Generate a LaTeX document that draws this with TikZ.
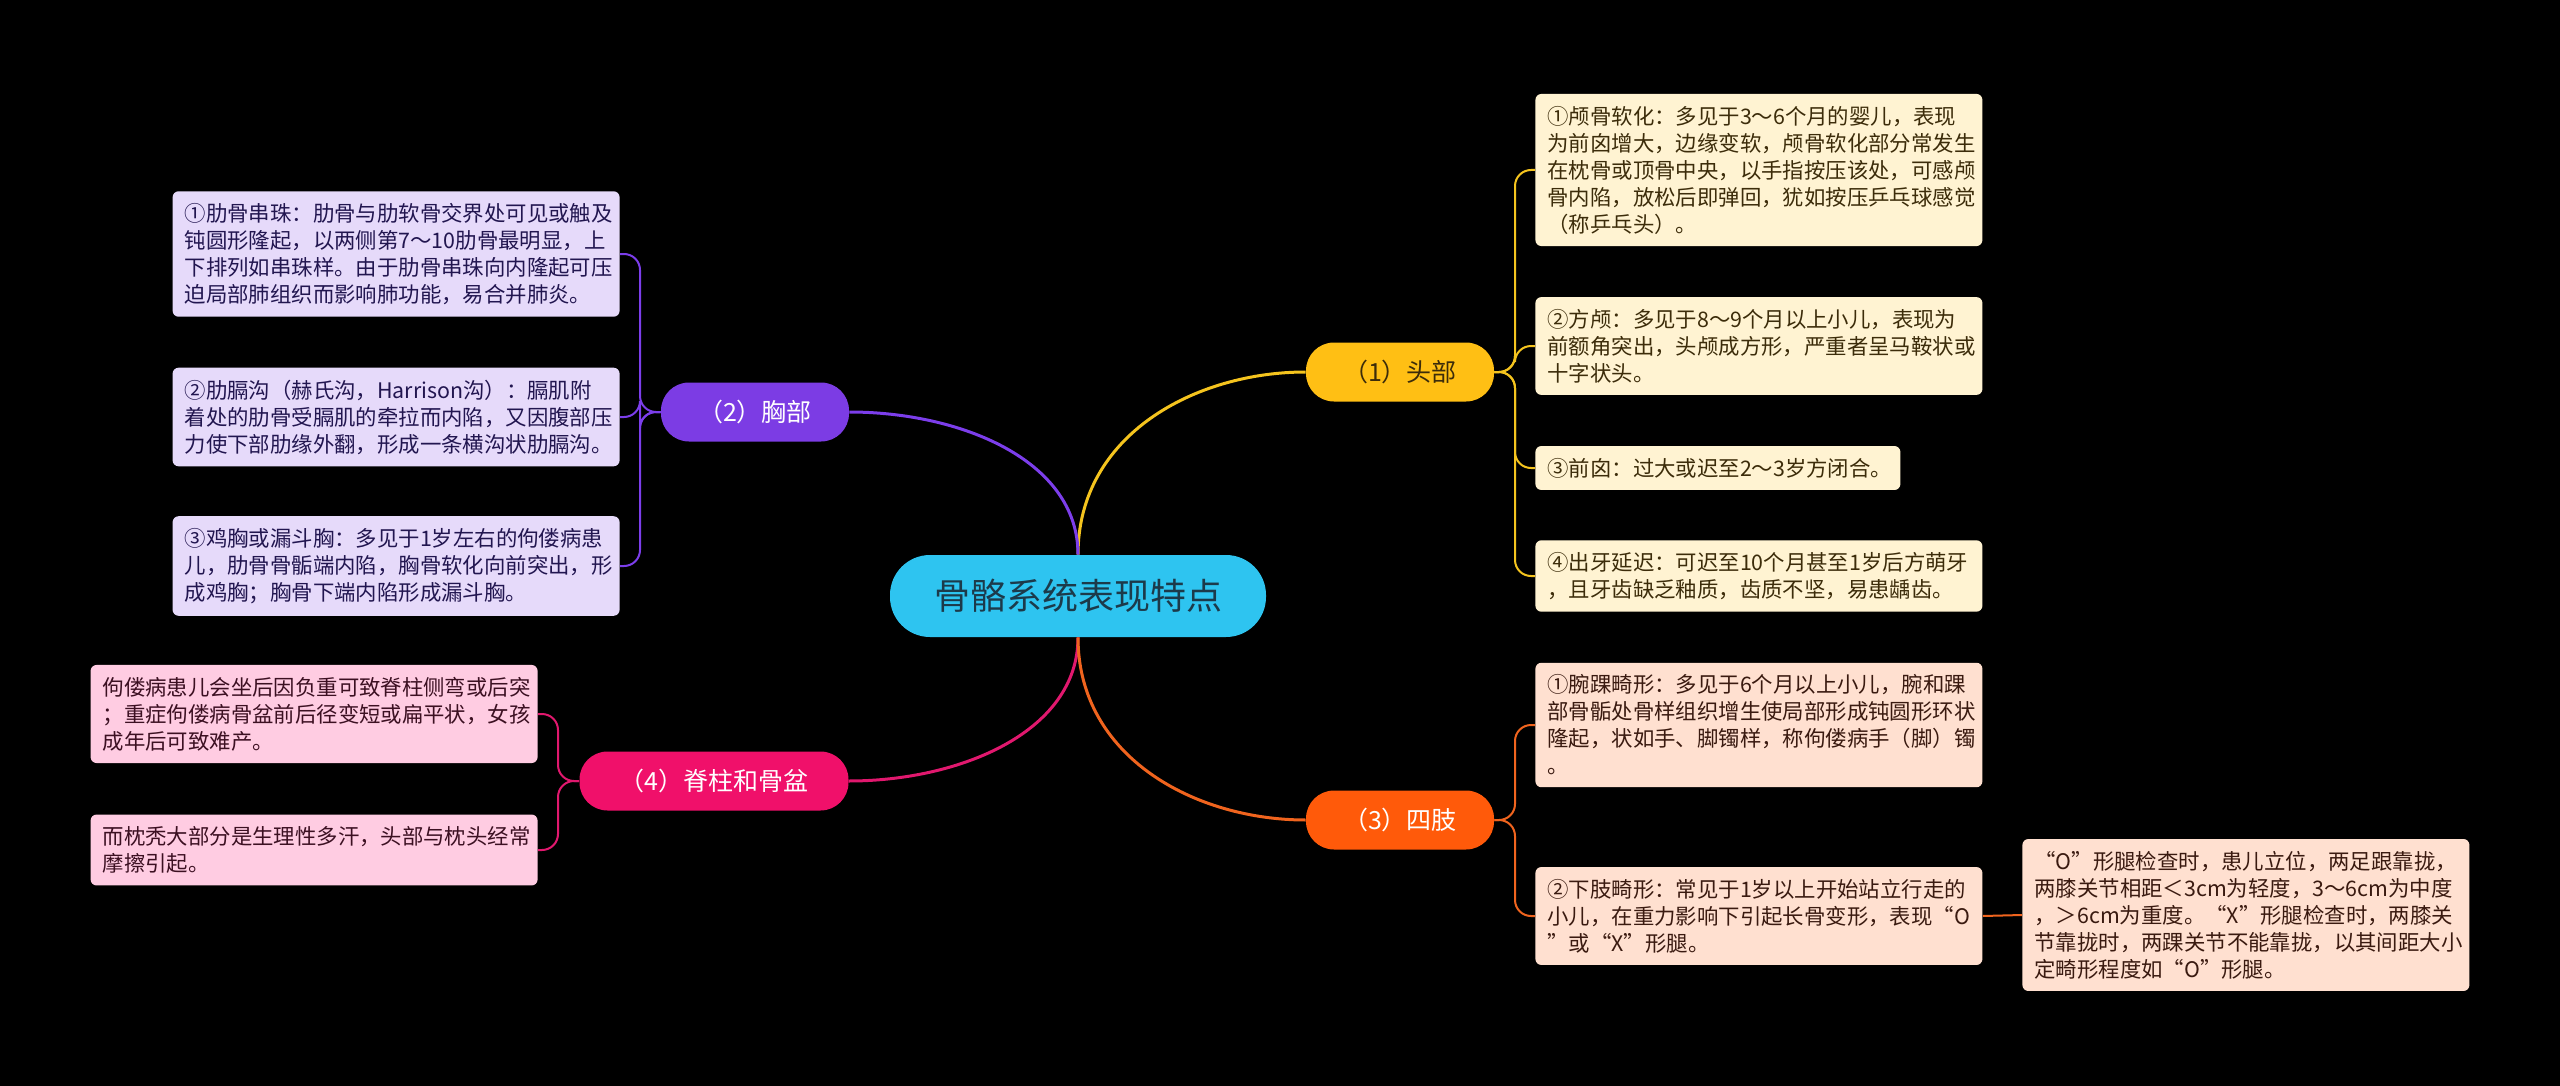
\documentclass[tikz,border=0pt]{standalone}
\usepackage{fontspec}
\setmainfont{Noto Sans CJK SC}

\definecolor{bgblack}{RGB}{0,0,0}
\definecolor{rootfill}{RGB}{46,196,240}
\definecolor{roottext}{RGB}{28,58,74}
\definecolor{headfill}{RGB}{255,191,20}
\definecolor{headline}{RGB}{245,196,30}
\definecolor{headleaf}{RGB}{255,243,210}
\definecolor{headtext}{RGB}{60,44,10}
\definecolor{limbfill}{RGB}{255,90,10}
\definecolor{limbline}{RGB}{240,100,30}
\definecolor{limbleaf}{RGB}{255,224,208}
\definecolor{limbtext}{RGB}{58,26,16}
\definecolor{chestfill}{RGB}{124,60,228}
\definecolor{chestline}{RGB}{124,62,235}
\definecolor{chestleaf}{RGB}{230,218,250}
\definecolor{chesttext}{RGB}{34,22,80}
\definecolor{spinefill}{RGB}{240,16,106}
\definecolor{spineline}{RGB}{225,24,110}
\definecolor{spineleaf}{RGB}{255,204,226}
\definecolor{spinetext}{RGB}{60,16,34}

\tikzset{
  rootbox/.style={fill=rootfill, text=roottext, rounded corners=20pt,
    minimum width=188pt, minimum height=41pt, inner sep=0pt,
    font=\fontsize{18}{22}\selectfont},
  topicbox/.style={rounded corners=14pt, minimum height=29.5pt,
    minimum width=94pt, inner sep=0pt, font=\fontsize{12.5}{15}\selectfont},
  leafbox/.style={rounded corners=3pt, inner xsep=6pt, inner ysep=6pt,
    text width=211.5pt, align=left, font=\fontsize{10.7}{13.5}\selectfont},
  branch/.style={line width=1.5pt},
  brace/.style={line width=1pt, rounded corners=8pt}
}

\begin{document}
\begin{tikzpicture}[x=0.5pt, y=-0.5pt]

% background and frame
\fill[bgblack] (0,0) rectangle (2560,1086);
\useasboundingbox (0,0) rectangle (2560,1086);

% root and main topics
\node[rootbox] (root) at (1078,596) {骨骼系统表现特点};
\node[topicbox, fill=headfill, text=headtext] (head) at (1400,372) {（1）头部};
\node[topicbox, fill=limbfill, text=white] (limb) at (1400,820) {（3）四肢};
\node[topicbox, fill=chestfill, text=white] (chest) at (755,412) {（2）胸部};
\node[topicbox, fill=spinefill, text=white, minimum width=134.5pt] (spine) at (714,781) {（4）脊柱和骨盆};

% main branches
\draw[branch, headline] (root.north) .. controls +(0,-120) and +(-110,0) .. (head.west);
\draw[branch, chestline] (root.north) .. controls +(0,-95) and +(110,0) .. (chest.east);
\draw[branch, spineline] (root.south) .. controls +(0,95) and +(110,0) .. (spine.east);
\draw[branch, limbline] (root.south) .. controls +(0,120) and +(-110,0) .. (limb.west);

% head leaves
\node[leafbox, fill=headleaf, text=headtext, anchor=west] (head1) at (1535,170)
  {①颅骨软化：多见于3～6个月的婴儿，表现\\为前囟增大，边缘变软，颅骨软化部分常发生\\在枕骨或顶骨中央，以手指按压该处，可感颅\\骨内陷，放松后即弹回，犹如按压乒乓球感觉\\（称乒乓头）。};
\node[leafbox, fill=headleaf, text=headtext, anchor=west] (head2) at (1535,346)
  {②方颅：多见于8～9个月以上小儿，表现为\\前额角突出，头颅成方形，严重者呈马鞍状或\\十字状头。};
\node[leafbox, fill=headleaf, text=headtext, anchor=west, text width=170.5pt] (head3) at (1535,468)
  {③前囟：过大或迟至2～3岁方闭合。};
\node[leafbox, fill=headleaf, text=headtext, anchor=west] (head4) at (1535,576)
  {④出牙延迟：可迟至10个月甚至1岁后方萌牙\\，且牙齿缺乏釉质，齿质不坚，易患龋齿。};

\coordinate (hb) at (1515,372);
\foreach \leaf in {head1,head2,head3,head4}
  \draw[brace, headline] (head.east) -- (hb) |- (\leaf.west);

% limb leaves
\node[leafbox, fill=limbleaf, text=limbtext, anchor=west] (limb1) at (1535,725)
  {①腕踝畸形：多见于6个月以上小儿，腕和踝\\部骨骺处骨样组织增生使局部形成钝圆形环状\\隆起，状如手、脚镯样，称佝偻病手（脚）镯\\。};
\node[leafbox, fill=limbleaf, text=limbtext, anchor=west] (limb2) at (1535,916)
  {②下肢畸形：常见于1岁以上开始站立行走的\\小儿，在重力影响下引起长骨变形，表现“O\\”或“X”形腿。};
\node[leafbox, fill=limbleaf, text=limbtext, anchor=west] (limb21) at (2022,915)
  {“O”形腿检查时，患儿立位，两足跟靠拢，\\两膝关节相距＜3cm为轻度，3～6cm为中度\\，＞6cm为重度。“X”形腿检查时，两膝关\\节靠拢时，两踝关节不能靠拢，以其间距大小\\定畸形程度如“O”形腿。};

\coordinate (lb) at (1515,820);
\foreach \leaf in {limb1,limb2}
  \draw[brace, limbline] (limb.east) -- (lb) |- (\leaf.west);
\draw[line width=1pt, limbline] (limb2.east) -- (limb21.west);

% chest leaves
\node[leafbox, fill=chestleaf, text=chesttext, anchor=east] (chest1) at (620,254)
  {①肋骨串珠：肋骨与肋软骨交界处可见或触及\\钝圆形隆起，以两侧第7～10肋骨最明显，上\\下排列如串珠样。由于肋骨串珠向内隆起可压\\迫局部肺组织而影响肺功能，易合并肺炎。};
\node[leafbox, fill=chestleaf, text=chesttext, anchor=east] (chest2) at (620,417)
  {②肋膈沟（赫氏沟，Harrison沟）：膈肌附\\着处的肋骨受膈肌的牵拉而内陷，又因腹部压\\力使下部肋缘外翻，形成一条横沟状肋膈沟。};
\node[leafbox, fill=chestleaf, text=chesttext, anchor=east] (chest3) at (620,566)
  {③鸡胸或漏斗胸：多见于1岁左右的佝偻病患\\儿，肋骨骨骺端内陷，胸骨软化向前突出，形\\成鸡胸；胸骨下端内陷形成漏斗胸。};

\coordinate (cb) at (640,412);
\foreach \leaf in {chest1,chest2,chest3}
  \draw[brace, chestline] (chest.west) -- (cb) |- (\leaf.east);

% spine leaves
\node[leafbox, fill=spineleaf, text=spinetext, anchor=east] (spine1) at (538,714)
  {佝偻病患儿会坐后因负重可致脊柱侧弯或后突\\；重症佝偻病骨盆前后径变短或扁平状，女孩\\成年后可致难产。};
\node[leafbox, fill=spineleaf, text=spinetext, anchor=east] (spine2) at (538,850)
  {而枕秃大部分是生理性多汗，头部与枕头经常\\摩擦引起。};

\coordinate (sb) at (558,781);
\foreach \leaf in {spine1,spine2}
  \draw[brace, spineline] (spine.west) -- (sb) |- (\leaf.east);

\end{tikzpicture}
\end{document}
